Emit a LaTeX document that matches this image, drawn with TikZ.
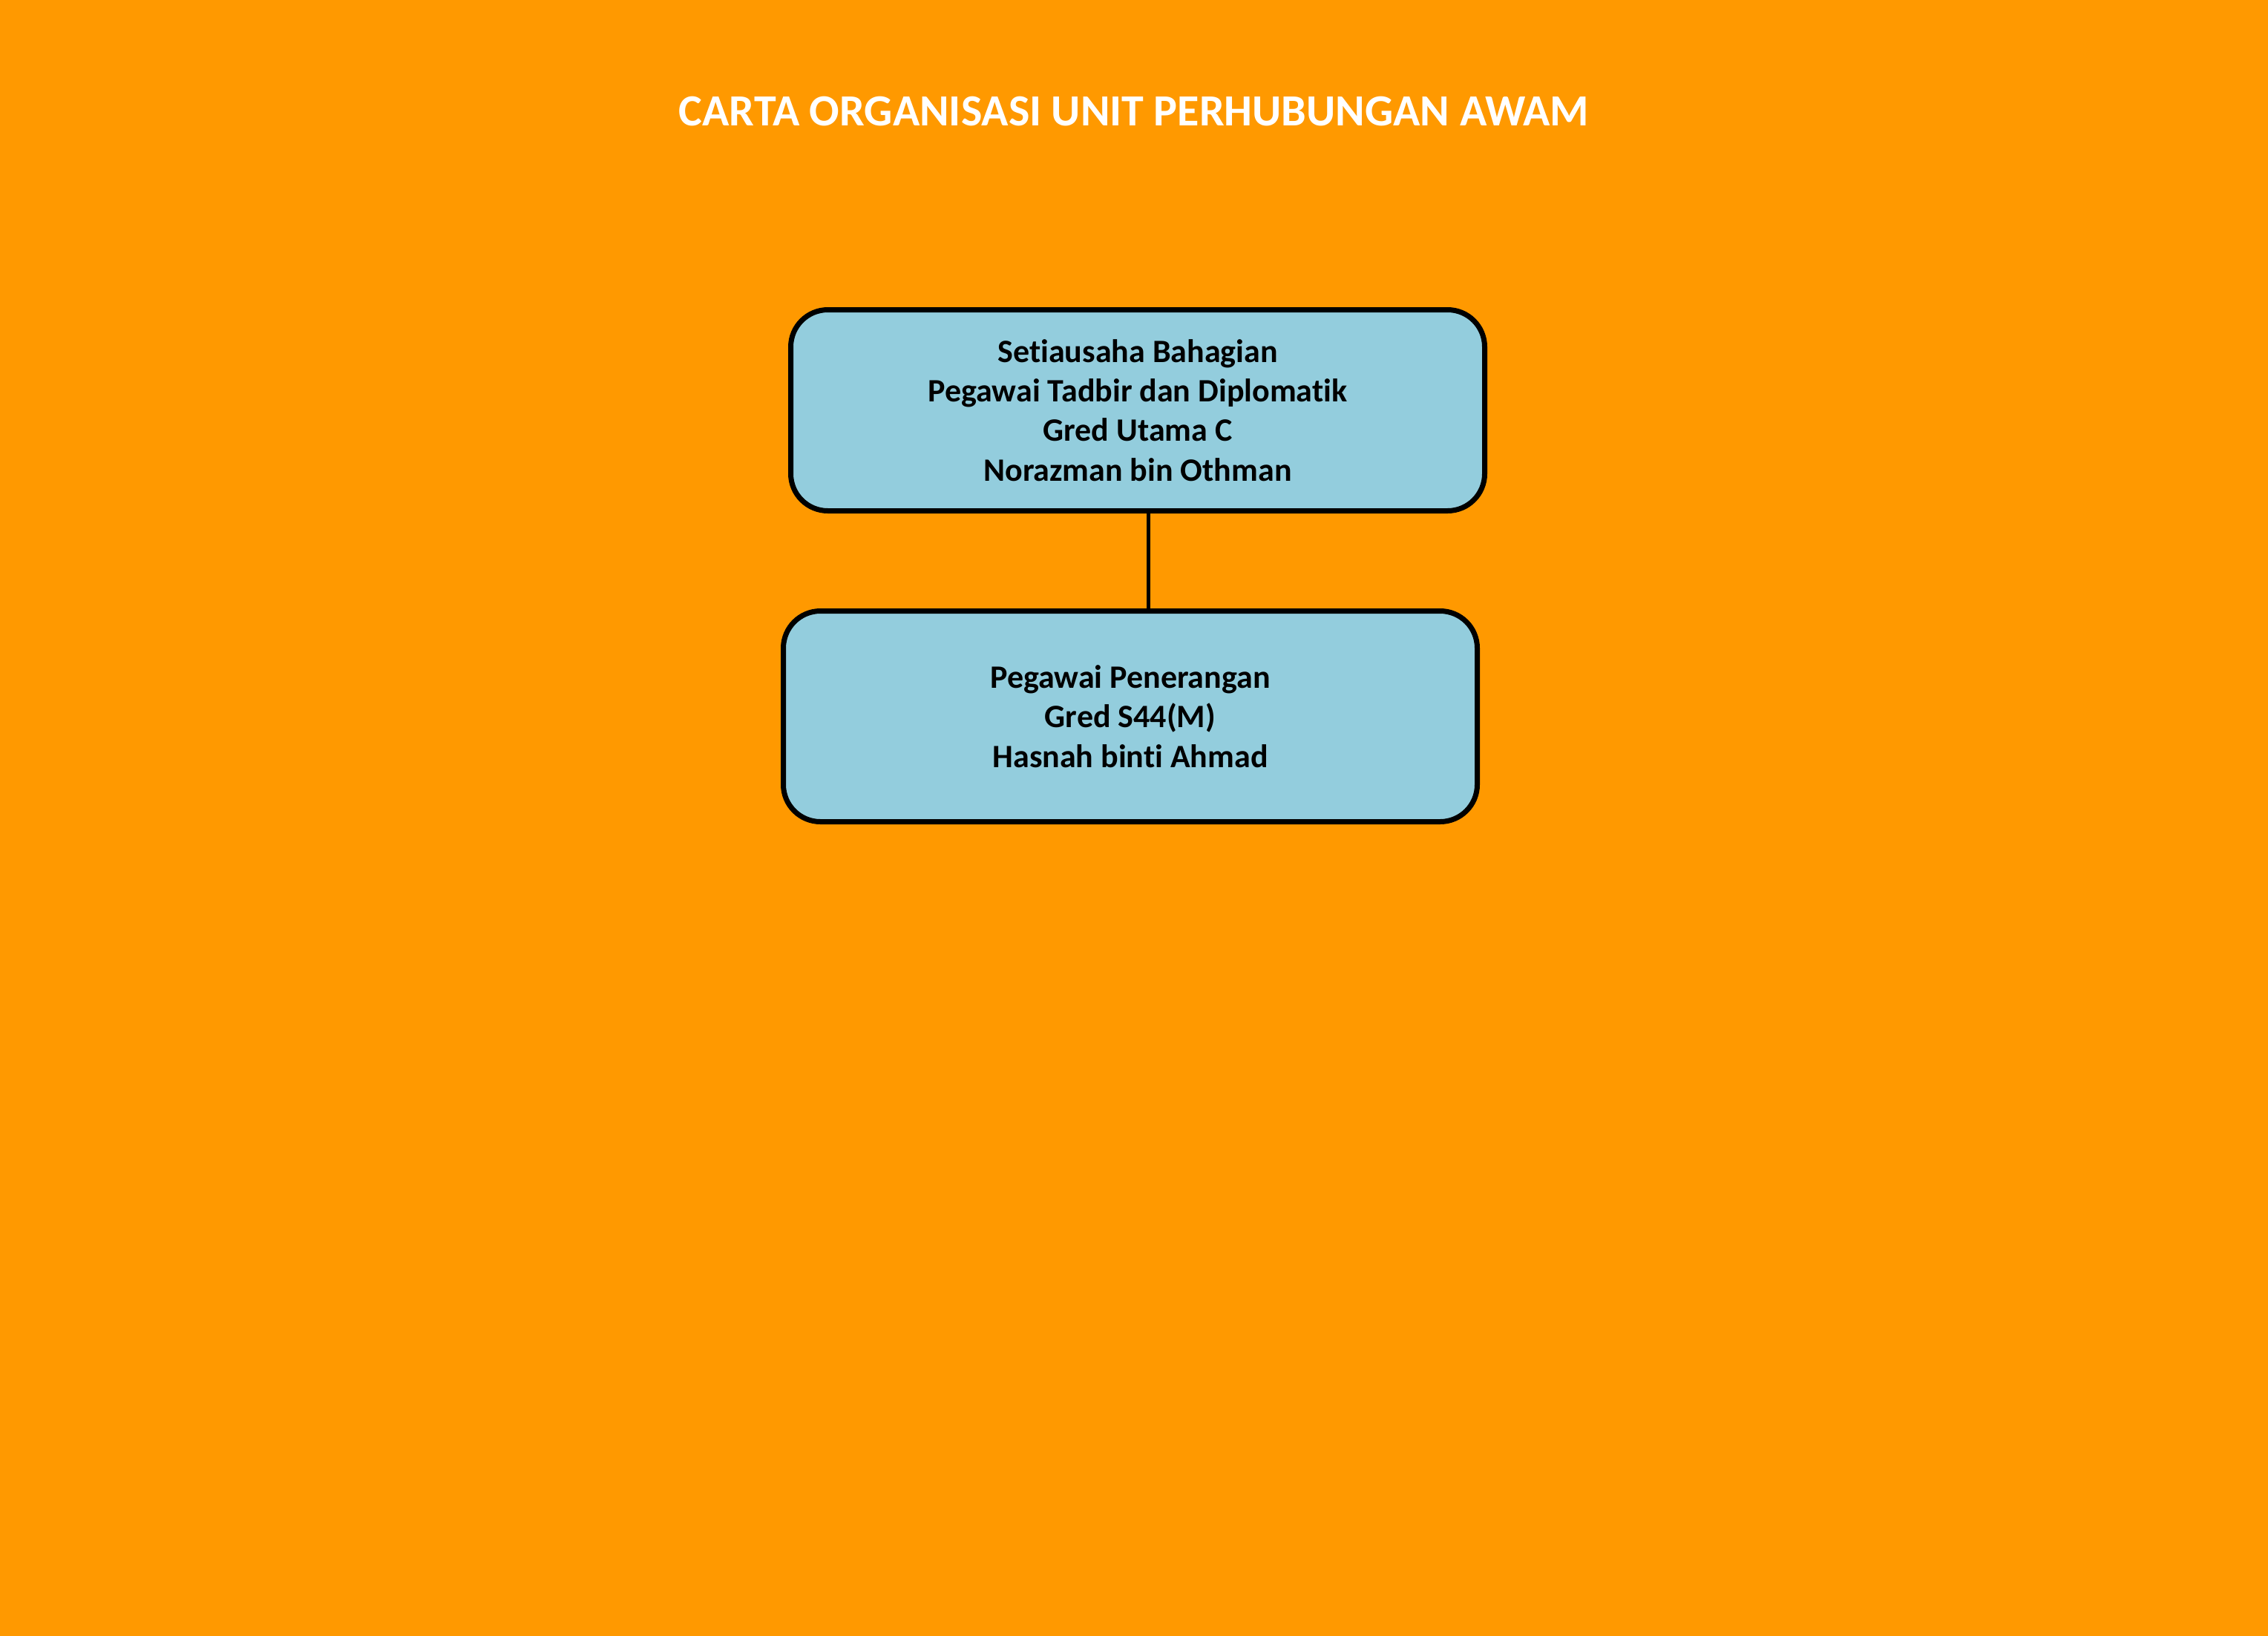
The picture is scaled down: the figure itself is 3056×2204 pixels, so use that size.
\documentclass[tikz,border=0pt]{standalone}
\usepackage{fontspec}
\setmainfont{Carlito}[Ligatures=NoCommon]
\definecolor{bgorange}{HTML}{FF9900}
\definecolor{boxblue}{HTML}{93CDDD}
\begin{document}
\begin{tikzpicture}[x=1pt,y=-1pt,
  orgbox/.style={draw=black, line width=7pt, fill=boxblue, rounded corners=50pt,
    minimum width=935pt, align=center, inner sep=0pt,
    font=\fontsize{44}{53.3}\selectfont\bfseries},
  conn/.style={draw=black, line width=5pt},
  titletext/.style={text=white, inner sep=0pt, font=\fontsize{60}{72}\selectfont\bfseries}]
\useasboundingbox (0,0) rectangle (3056,2204);
\fill[bgorange] (-3,-3) rectangle (3059,2207);
\node[titletext] (title) at (1528,150) {CARTA ORGANISASI UNIT PERHUBUNGAN AWAM};
\node[orgbox, minimum height=271pt] (b1) at (1533,553) {Setiausaha Bahagian\\Pegawai Tadbir dan Diplomatik\\Gred Utama C\\Norazman bin Othman};
\node[orgbox, minimum height=284pt] (b2) at (1523,965.5) {Pegawai Penerangan\\Gred S44(M)\\Hasnah binti Ahmad};
\coordinate (cx) at (1547,0);
\draw[conn] (b1.south -| cx) -- (b2.north -| cx);
\end{tikzpicture}
\end{document}
